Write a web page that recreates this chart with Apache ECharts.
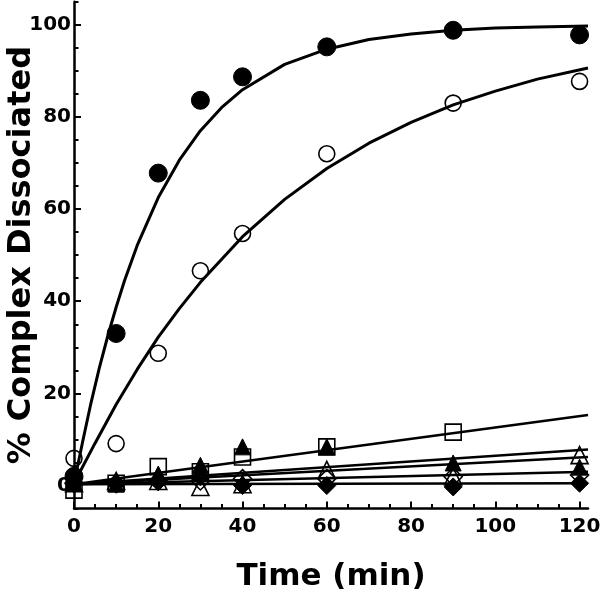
<!DOCTYPE html>
<html><head><meta charset="utf-8">
<script src="https://cdn.jsdelivr.net/npm/echarts@6/dist/echarts.min.js"></script>
<style>html,body{margin:0;padding:0;background:#fff}#c{width:600px;height:600px}</style>
</head><body><div id="c"></div>
<script>
// ---- data ----
const times = [0, 10, 20, 30, 40, 60, 90, 120];
const filledCircle = [2.0, 33.0, 67.8, 83.6, 88.7, 95.2, 98.8, 97.8];
const openCircle   = [5.9, 9.1, 28.7, 46.6, 54.7, 72.0, 83.0, 87.7];
const openSquareT  = [0, 10, 20, 30, 40, 60, 90];
const openSquare   = [-1.0, 0.5, 4.1, 3.0, 6.2, 8.4, 11.6];
const filledTri    = [0.5, 0.3, 2.5, 4.4, 8.4, 8.4, 4.9, 4.0];
const openTri      = [0.5, 1.0, 1.0, -0.3, 0.3, 3.4, 2.0, 6.6];
const filledDiam   = [1.6, 0.3, 0.8, 1.9, 0.0, 0.0, -0.3, 0.5];
const openDiam     = [0.5, 0.5, 1.0, 1.0, 1.5, 1.5, 1.9, 2.3];

// fitted curves
const fitT1 = [0, 2, 4, 6, 8, 10, 12, 15, 20, 25, 30, 35, 40, 50, 60, 70, 80, 90, 100, 110, 122];
const fitFilled = [0.5, 9.3, 17.8, 25.5, 32.4, 38.7, 44.5, 52.1, 62.5, 70.6, 77.0, 82.0, 85.9, 91.4, 94.7, 96.8, 98.0, 98.8, 99.3, 99.5, 99.7];
const fitT2 = [0, 5, 10, 15, 20, 25, 30, 40, 50, 60, 70, 80, 90, 100, 110, 122];
const fitOpen = [0.5, 9.2, 17.6, 25.2, 32.2, 38.4, 44.1, 54.0, 62.1, 68.8, 74.3, 78.8, 82.6, 85.6, 88.2, 90.6];
const fitLowT = [0, 122];
const fitSquare = [0.3, 15.3];
const fitOpenTri = [0.3, 7.8];
const fitFilledTri = [0.3, 6.2];
const fitOpenDiam = [0.3, 3.0];
const fitFilledDiam = [0.3, 0.5];

const xMajor = [0, 20, 40, 60, 80, 100, 120];
const xMinor = [5, 10, 15, 25, 30, 35, 45, 50, 55, 65, 70, 75, 85, 90, 95, 105, 110, 115];
const yMajor = [0, 20, 40, 60, 80, 100];
const yMinor = [-5, 5, 10, 15, 25, 30, 35, 45, 50, 55, 65, 70, 75, 85, 90, 95, 105];

const zip = (xs, ys) => xs.map((x, i) => [x, ys[i]]);
const FONT = 'DejaVu Sans';
const labelStyle = { fontFamily: FONT, fontWeight: 'bold', fontSize: 20, color: '#000' };
const tickStyle = { color: '#000', width: 2 };

function scatter(name, data, symbol, size, filled, z) {
  return {
    name, type: 'scatter', data, symbol, symbolSize: size, clip: false, z: z || 3,
    itemStyle: filled ? { color: '#000', borderColor: '#000', borderWidth: 1, opacity: 1 }
                      : { color: 'rgba(255,255,255,0)', borderColor: '#000', borderWidth: 1.6, opacity: 1 }
  };
}
function fit(data, w) {
  return { type: 'line', data, symbol: 'none', smooth: false, z: 2, clip: false,
    lineStyle: { color: '#000', width: w } };
}

const chart = echarts.init(document.getElementById('c'), null, { renderer: 'canvas' });
chart.setOption({
  animation: false,
  backgroundColor: '#fff',
  grid: { left: 74, right: 12, top: 1.7, bottom: 91.4, containLabel: false, outerBoundsMode: 'none' },
  xAxis: [
    { type: 'value', min: 0, max: 122, position: 'bottom',
      axisLine: { onZero: false, lineStyle: { color: '#000', width: 2.5 } },
      axisTick: { inside: true, length: 7, lineStyle: tickStyle, customValues: xMajor },
      axisLabel: Object.assign({ customValues: xMajor, margin: 8 }, labelStyle),
      splitLine: { show: false },
      name: 'Time (min)', nameLocation: 'middle', nameGap: 53, nameMoveOverlap: false,
      nameTextStyle: { fontFamily: FONT, fontWeight: 'bold', fontSize: 31, color: '#000' } },
    { type: 'value', min: 0, max: 122, position: 'bottom', offset: 0,
      axisLine: { show: false, onZero: false },
      axisTick: { inside: true, length: 4.5, lineStyle: tickStyle, customValues: xMinor },
      axisLabel: { show: false }, splitLine: { show: false } }
  ],
  yAxis: [
    { type: 'value', min: -5, max: 105, position: 'left',
      axisLine: { onZero: false, lineStyle: { color: '#000', width: 2.5 } },
      axisTick: { inside: true, length: 7, lineStyle: tickStyle, customValues: yMajor },
      axisLabel: Object.assign({ customValues: yMajor, margin: 3 }, labelStyle),
      splitLine: { show: false },
      name: '% Complex Dissociated', nameLocation: 'middle', nameGap: 36, nameMoveOverlap: false,
      nameTextStyle: { fontFamily: FONT, fontWeight: 'bold', fontSize: 32, color: '#000' } },
    { type: 'value', min: -5, max: 105, position: 'left', offset: 0,
      axisLine: { show: false, onZero: false },
      axisTick: { inside: true, length: 4.5, lineStyle: tickStyle, customValues: yMinor },
      axisLabel: { show: false }, splitLine: { show: false } }
  ],
  series: [
    fit(zip(fitT1, fitFilled), 3),
    fit(zip(fitT2, fitOpen), 3),
    fit(zip(fitLowT, fitSquare), 2.5),
    fit(zip(fitLowT, fitOpenTri), 2.5),
    fit(zip(fitLowT, fitFilledTri), 2.5),
    fit(zip(fitLowT, fitOpenDiam), 2.5),
    fit(zip(fitLowT, fitFilledDiam), 2.5),
    scatter('openDiamond', zip(times, openDiam), 'diamond', 18, false, 3),
    scatter('openTriangle', zip(times, openTri), 'triangle', 17, false, 3),
    scatter('openSquare', zip(openSquareT, openSquare), 'rect', 16, false, 3),
    scatter('filledTriangle', zip(times, filledTri), 'triangle', 16, true, 4),
    scatter('filledDiamond', zip(times, filledDiam), 'diamond', 18, true, 4),
    scatter('openCircle', zip(times, openCircle), 'circle', 16, false, 4),
    scatter('filledCircle', zip(times, filledCircle), 'circle', 18, true, 5)
  ]
});
</script></body></html>
